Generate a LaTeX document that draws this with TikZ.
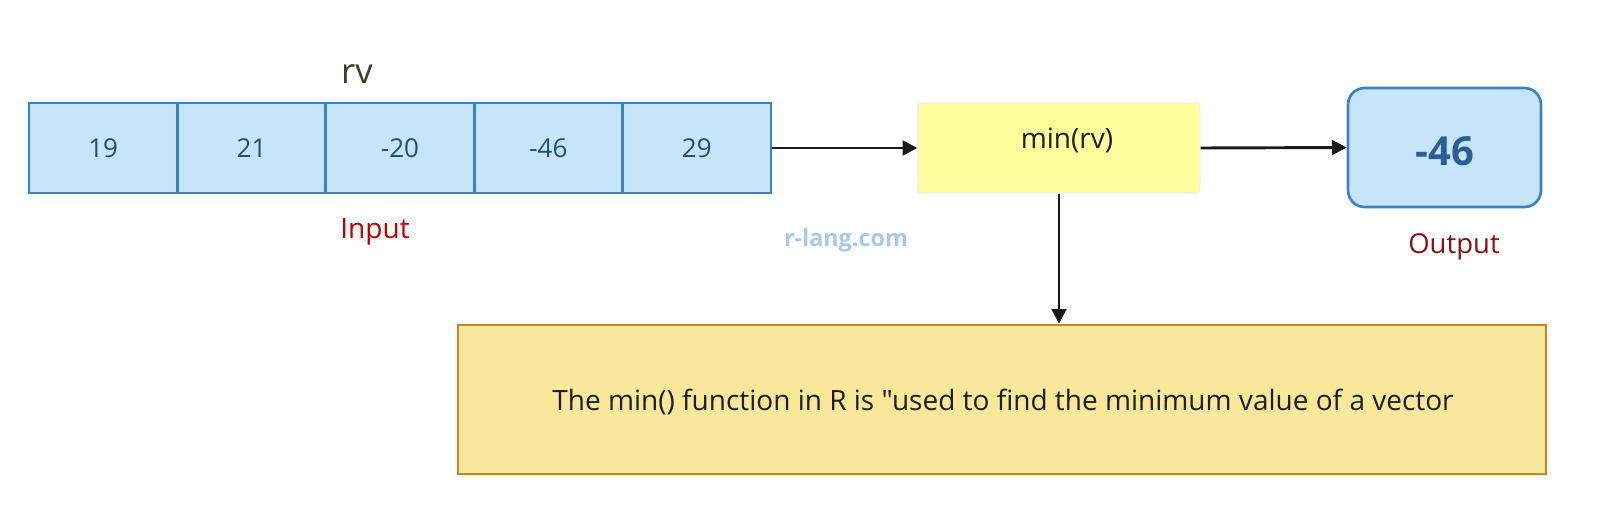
\documentclass[tikz,border=0pt]{standalone}
\usepackage{fontspec}
\setmainfont[Ligatures=TeXOff]{Open Sans}
\usetikzlibrary{arrows.meta}
\definecolor{cellfill}{HTML}{C6E5F9}
\definecolor{cellline}{HTML}{3B82C4}
\definecolor{celltext}{HTML}{1F4E7A}
\definecolor{minfill}{HTML}{FFFF9E}
\definecolor{outtext}{HTML}{2B5F93}
\definecolor{notefill}{HTML}{F9E79B}
\definecolor{noteline}{HTML}{D17F2F}
\definecolor{inred}{HTML}{C00000}
\definecolor{outred}{HTML}{8B1010}
\definecolor{rvgray}{HTML}{3B3B2F}
\definecolor{wmark}{HTML}{A7C8E6}
\definecolor{arrowc}{HTML}{1A1A1A}
\begin{document}
\begin{tikzpicture}[x=0.75pt,y=-0.75pt,
  cell/.style={draw=cellline, fill=cellfill, line width=2pt, minimum width=111.3pt, minimum height=67.5pt, inner sep=0pt, text=celltext, font=\fontsize{19.5}{23}\selectfont},
  txt/.style={inner sep=0pt, anchor=base},
  conn/.style={draw=arrowc, line width=2.2pt, -{Triangle[length=11pt,width=11pt]}}
]
\useasboundingbox (0,0) rectangle (1600,504);
% array cells
\node[cell] (c1) at (103.2,148) {19};
\node[cell] (c2) at (251.6,148) {21};
\node[cell] (c3) at (400,148) {-20};
\node[cell] (c4) at (548.4,148) {-46};
\node[cell] (c5) at (696.8,148) {29};
\node[txt, text=rvgray, font=\fontsize{26}{30}\selectfont] (rv) at (357,83) {rv};
\node[txt, text=inred, font=\fontsize{21}{25}\selectfont] (input) at (375,238) {Input};
% function box
\node[draw=black!7, line width=1pt, fill=minfill, rounded corners=2pt, minimum width=211.5pt, minimum height=67.5pt, inner sep=0pt] (minbox) at (1059,148) {};
\node[txt, text=black!88, font=\fontsize{21}{25}\selectfont] (minlbl) at (1067,148) {min(rv)};
% output box
\node[draw=cellline, fill=cellfill, line width=2pt, rounded corners=12.5pt, minimum width=144.75pt, minimum height=89.25pt, inner sep=0pt] (outbox) at (1444.5,147.5) {};
\node[txt, text=outtext, font=\fontsize{30}{34}\selectfont\bfseries] (outval) at (1445,165) {-46};
\node[txt, text=outred, font=\fontsize{20.6}{24}\selectfont] (output) at (1454,253) {Output};
\node[txt, text=wmark, font=\fontsize{17.5}{21}\selectfont\bfseries] (wm) at (846,246) {r-lang.com};
% note box
\node[draw=noteline, fill=notefill, line width=2pt, minimum width=816pt, minimum height=111.75pt, inner sep=0pt] (note) at (1002,399.5) {};
\node[txt, text=black!88, font=\fontsize{21}{25}\selectfont] (notelbl) at (1003,410) {The min() function in R is "used to find the minimum value of a vector};
% connectors
\draw[conn] (c5.east) -- (minbox.west);
\draw[conn] (minbox.east) -- (outbox.west);
\draw[conn] (minbox.south) -- (minbox.south |- note.north);
\end{tikzpicture}
\end{document}
